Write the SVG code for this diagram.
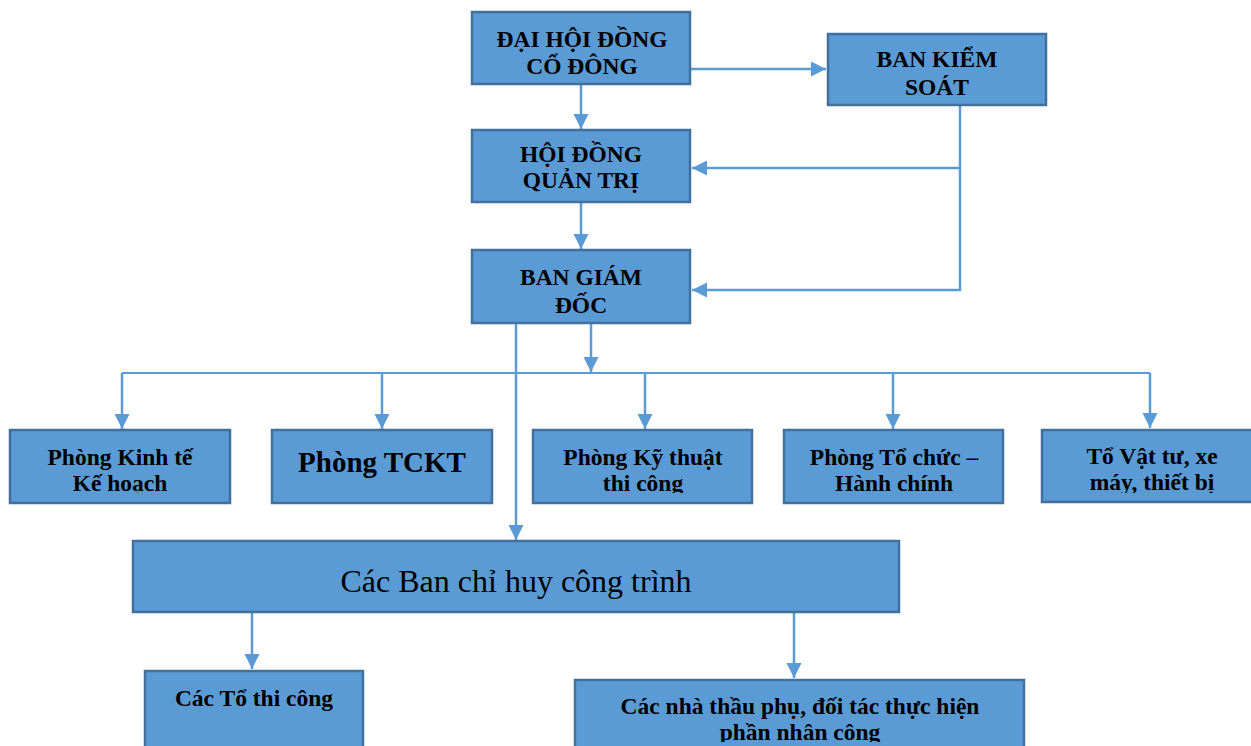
<svg xmlns="http://www.w3.org/2000/svg" width="1251" height="746" viewBox="0 0 1251 746">
<style>
.box{fill:#5b9bd5;stroke:#41719c;stroke-width:2.5}
.t{font-family:"Liberation Serif","Times New Roman",serif;font-weight:bold;font-size:23.5px;fill:#000;text-anchor:middle}
.big{font-size:29px}
.reg{font-weight:normal;font-size:32px}
.c{fill:none;stroke:#5b9bd5;stroke-width:2.5}
.thin{stroke-width:1.8}
</style>
<defs>
<marker id="ah" markerUnits="userSpaceOnUse" markerWidth="16" markerHeight="16" refX="15" refY="7.5" orient="auto">
<path d="M0,0 L15,7.5 L0,15 z" fill="#5b9bd5"/>
</marker>
<clipPath id="cr1"><rect x="10" y="430" width="220" height="63"/></clipPath>
<clipPath id="cr2"><rect x="272" y="430" width="220" height="63"/></clipPath>
<clipPath id="cr3"><rect x="533" y="430" width="219" height="63"/></clipPath>
<clipPath id="cr4"><rect x="784" y="430" width="219" height="63"/></clipPath>
<clipPath id="cr5"><rect x="1042" y="430" width="209" height="63"/></clipPath>
<clipPath id="cb2"><rect x="575" y="680" width="449" height="62"/></clipPath>
</defs>
<g id="connectors">
<path class="c" d="M690,69 H826" marker-end="url(#ah)"/>
<path class="c" d="M581,84 V129" marker-end="url(#ah)"/>
<path class="c" d="M960,105 V290 H692" marker-end="url(#ah)"/>
<path class="c" d="M960,168 H692" marker-end="url(#ah)"/>
<path class="c" d="M581,202 V249" marker-end="url(#ah)"/>
<path class="c" d="M516,323 V540" marker-end="url(#ah)"/>
<path class="c" d="M591,323 V372" marker-end="url(#ah)"/>
<path class="c thin" d="M122,373 H1150"/>
<path class="c" d="M122,373 V429" marker-end="url(#ah)"/>
<path class="c" d="M382,373 V429" marker-end="url(#ah)"/>
<path class="c" d="M645,373 V429" marker-end="url(#ah)"/>
<path class="c" d="M893,373 V429" marker-end="url(#ah)"/>
<path class="c" d="M1150,373 V428" marker-end="url(#ah)"/>
<path class="c" d="M252,612 V669" marker-end="url(#ah)"/>
<path class="c" d="M794,612 V678" marker-end="url(#ah)"/>
</g>
<g id="dhdcd">
<rect class="box" x="472" y="12" width="218" height="72"/>
<text class="t" x="582" y="47">ĐẠI HỘI ĐỒNG</text>
<text class="t" x="582" y="74">CỔ ĐÔNG</text>
</g>
<g id="bks">
<rect class="box" x="828" y="34" width="218" height="71"/>
<text class="t" x="937" y="67">BAN KIỂM</text>
<text class="t" x="937" y="95">SOÁT</text>
</g>
<g id="hdqt">
<rect class="box" x="472" y="130" width="218" height="72"/>
<text class="t" x="581" y="162">HỘI ĐỒNG</text>
<text class="t" x="581" y="188">QUẢN TRỊ</text>
</g>
<g id="bgd">
<rect class="box" x="472" y="250" width="218" height="73"/>
<text class="t" x="581" y="285">BAN GIÁM</text>
<text class="t" x="581" y="313">ĐỐC</text>
</g>
<g id="p1">
<rect class="box" x="10" y="430" width="220" height="73"/>
<g clip-path="url(#cr1)">
<text class="t" x="120" y="465">Phòng Kinh tế</text>
<text class="t" x="120" y="491">Kế hoạch</text>
</g>
</g>
<g id="p2">
<rect class="box" x="272" y="430" width="220" height="73"/>
<g clip-path="url(#cr2)">
<text class="t big" x="382" y="472">Phòng TCKT</text>
</g>
</g>
<g id="p3">
<rect class="box" x="533" y="430" width="219" height="73"/>
<g clip-path="url(#cr3)">
<text class="t" x="643" y="465">Phòng Kỹ thuật</text>
<text class="t" x="643" y="491">thi công</text>
</g>
</g>
<g id="p4">
<rect class="box" x="784" y="430" width="219" height="73"/>
<g clip-path="url(#cr4)">
<text class="t" x="894" y="465">Phòng Tổ chức –</text>
<text class="t" x="894" y="491">Hành chính</text>
</g>
</g>
<g id="p5">
<rect class="box" x="1042" y="430" width="215" height="72"/>
<g clip-path="url(#cr5)">
<text class="t" x="1152" y="464">Tổ Vật tư, xe</text>
<text class="t" x="1152" y="490">máy, thiết bị</text>
</g>
</g>
<g id="bch">
<rect class="box" x="133" y="541" width="766" height="71"/>
<text class="t reg" x="516" y="592">Các Ban chỉ huy công trình</text>
</g>
<g id="totc">
<rect class="box" x="145" y="671" width="218" height="80"/>
<text class="t" x="254" y="706">Các Tổ thi công</text>
</g>
<g id="nhathau">
<rect class="box" x="575" y="680" width="449" height="72"/>
<g clip-path="url(#cb2)">
<text class="t" x="800" y="714">Các nhà thầu phụ, đối tác thực hiện</text>
<text class="t" x="800" y="740">phần nhân công</text>
</g>
</g>
</svg>
